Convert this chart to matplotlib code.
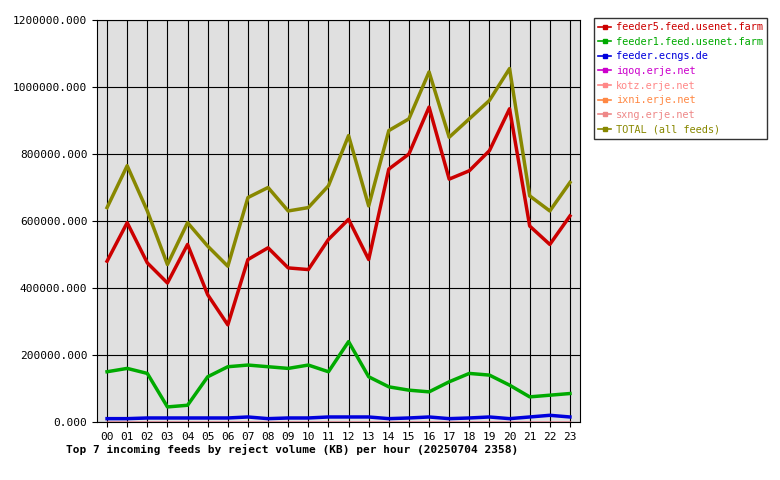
import matplotlib
matplotlib.use("Agg")
import matplotlib.pyplot as plt

hours = ["%02d" % h for h in range(24)]
feeder5 = [480,595,475,415,530,380,290,485,520,460,455,545,605,485,755,800,940,725,750,810,935,585,530,615]
feeder1 = [150,160,145,45,50,135,165,170,165,160,170,150,240,135,105,95,90,120,145,140,110,75,80,85]
ecngs = [10,10,12,12,12,12,12,15,10,12,12,15,15,15,10,12,15,10,12,15,10,15,20,15]
iqoq = [0]*24
kotz = [0]*24
ixni = [0]*24
sxng = [0]*24
total = [640,765,630,470,595,525,465,670,700,630,640,705,855,645,870,905,1045,850,905,960,1055,675,630,715]

series = [("feeder5.feed.usenet.farm", feeder5, "#cc0000"),
          ("feeder1.feed.usenet.farm", feeder1, "#00aa00"),
          ("feeder.ecngs.de", ecngs, "#0000dd"),
          ("iqoq.erje.net", iqoq, "#cc00cc"),
          ("kotz.erje.net", kotz, "#ff8888"),
          ("ixni.erje.net", ixni, "#ff8844"),
          ("sxng.erje.net", sxng, "#ee8888"),
          ("TOTAL (all feeds)", total, "#888800")]

plt.rcParams['font.family'] = ['DejaVu Sans Mono']
fig = plt.figure(figsize=(7.8, 4.8), dpi=100)
ax = fig.add_axes([97/780, 58/480, 483/780, 402/480])
ax.set_facecolor("#e0e0e0")
x = list(range(24))
handles = []
for name, vals, col in series:
    lw = 1 if all(v == 0 for v in vals) else 2.5
    ax.plot(x, [v*1000 for v in vals], color=col, lw=lw, zorder=3 if lw > 1 else 1)
    h, = ax.plot([], [], color=col, lw=1.2, marker='s', markersize=2.5, label=name)
    handles.append(h)
ax.set_xlim(-0.5, 23.5)
ax.set_ylim(0, 1200000)
ax.set_xticks(x)
ax.set_xticklabels(hours, fontsize=8)
ax.set_yticks(range(0, 1200001, 200000))
ax.set_yticklabels(["%d.000" % v for v in range(0, 1200001, 200000)], fontsize=8)
ax.grid(True, color="black", lw=0.8, zorder=0)
ax.set_axisbelow(True)
ax.set_xlabel("Top 7 incoming feeds by reject volume (KB) per hour (20250704 2358)",
              fontsize=8, fontweight='bold', loc='left', labelpad=3)
ax.xaxis.set_label_coords(-0.065, -0.055)
leg = fig.legend(handles=handles, loc='upper left', bbox_to_anchor=(594/780, 1-18/480), fontsize=7.4,
                 frameon=True, fancybox=False, edgecolor='black', handlelength=1.3,
                 handletextpad=0.4, labelspacing=0.45, borderpad=0.4, borderaxespad=0)
for t, (_, _, c) in zip(leg.get_texts(), series):
    t.set_color(c)
fig.savefig("out.png", dpi=100)
